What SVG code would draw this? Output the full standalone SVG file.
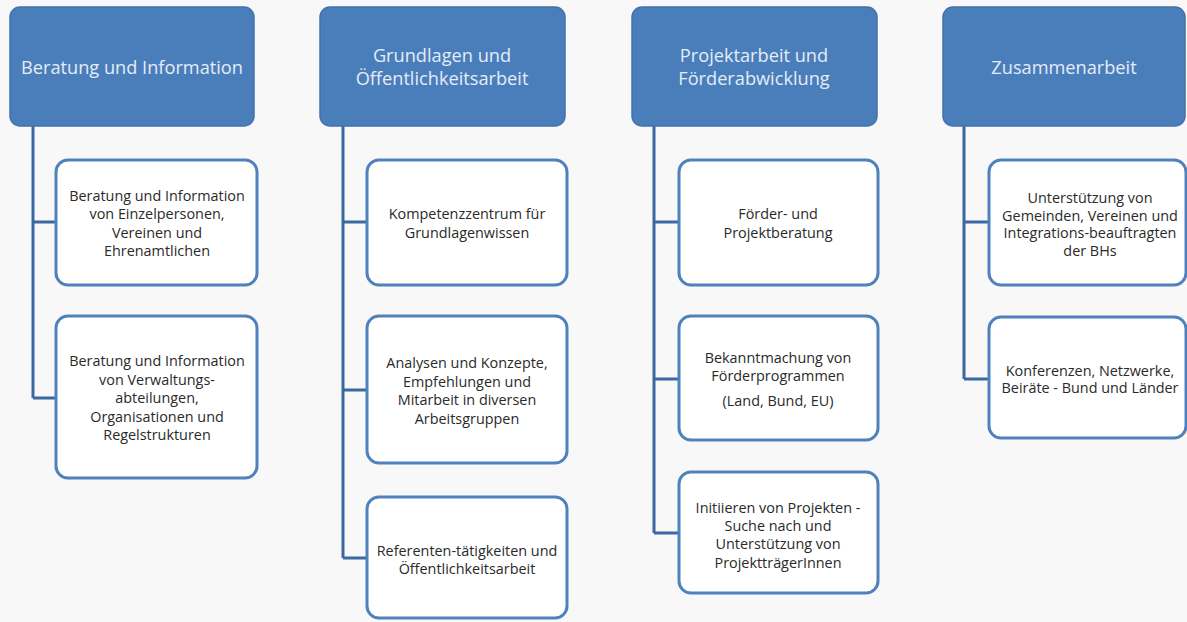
<svg xmlns="http://www.w3.org/2000/svg" width="1187" height="622" viewBox="0 0 1187 622">
<style>
.hdr{fill:#4a7ebb;stroke:#4272ad;stroke-width:1.5}
.hdr-t{font-family:"Open Sans","Liberation Sans",sans-serif;font-size:18.2px;fill:#e4ecf7;text-anchor:middle;dominant-baseline:central}
.box{fill:#ffffff;stroke:#4f81bd;stroke-width:3}
.box-t{font-family:"Open Sans","Liberation Sans",sans-serif;font-size:14.4px;fill:#2a2a2a;text-anchor:middle;dominant-baseline:central}
.con{fill:none;stroke:#3b67a3;stroke-width:3}
</style>
<rect width="1187" height="622" fill="#f8f8f8"/>
<g id="connectors">
<path class="con" d="M33 126 V398 M33 222 H56 M33 398 H56"/>
<path class="con" d="M343 126 V558 M343 222 H367 M343 390 H367 M343 558 H367"/>
<path class="con" d="M654 126 V533 M654 222 H679 M654 379 H679 M654 533 H679"/>
<path class="con" d="M964 126 V379 M964 222 H989 M964 379 H989"/>
</g>
<g id="h1"><rect class="hdr" x="10" y="7" width="244" height="119" rx="10"/><text class="hdr-t" x="132" y="67">Beratung und Information</text></g>
<g id="h2"><rect class="hdr" x="320" y="7" width="245" height="119" rx="10"/><text class="hdr-t" x="442" y="55">Grundlagen und</text><text class="hdr-t" x="442" y="78">Öffentlichkeitsarbeit</text></g>
<g id="h3"><rect class="hdr" x="632" y="7" width="245" height="119" rx="10"/><text class="hdr-t" x="754" y="55">Projektarbeit und</text><text class="hdr-t" x="754" y="78">Förderabwicklung</text></g>
<g id="h4"><rect class="hdr" x="943" y="7" width="242" height="119" rx="10"/><text class="hdr-t" x="1064" y="67">Zusammenarbeit</text></g>

<g id="c1a"><rect class="box" x="56" y="160" width="201" height="125" rx="12"/>
<text class="box-t" x="157" y="195">Beratung und Information</text><text class="box-t" x="157" y="213">von Einzelpersonen,</text><text class="box-t" x="157" y="232">Vereinen und</text><text class="box-t" x="157" y="250">Ehrenamtlichen</text></g>
<g id="c1b"><rect class="box" x="56" y="316" width="201" height="162" rx="12"/>
<text class="box-t" x="157" y="360">Beratung und Information</text><text class="box-t" x="157" y="379">von Verwaltungs-</text><text class="box-t" x="157" y="397">abteilungen,</text><text class="box-t" x="157" y="416">Organisationen und</text><text class="box-t" x="157" y="434">Regelstrukturen</text></g>

<g id="c2a"><rect class="box" x="367" y="160" width="200" height="125" rx="12"/>
<text class="box-t" x="467" y="213">Kompetenzzentrum für</text><text class="box-t" x="467" y="232">Grundlagenwissen</text></g>
<g id="c2b"><rect class="box" x="367" y="316" width="200" height="147" rx="12"/>
<text class="box-t" x="467" y="362">Analysen und Konzepte,</text><text class="box-t" x="467" y="381">Empfehlungen und</text><text class="box-t" x="467" y="399">Mitarbeit in diversen</text><text class="box-t" x="467" y="418">Arbeitsgruppen</text></g>
<g id="c2c"><rect class="box" x="367" y="497" width="200" height="121" rx="12"/>
<text class="box-t" x="467" y="550">Referenten-tätigkeiten und</text><text class="box-t" x="467" y="568">Öffentlichkeitsarbeit</text></g>

<g id="c3a"><rect class="box" x="679" y="160" width="199" height="125" rx="12"/>
<text class="box-t" x="778" y="213">Förder- und</text><text class="box-t" x="778" y="232">Projektberatung</text></g>
<g id="c3b"><rect class="box" x="679" y="316" width="199" height="124" rx="12"/>
<text class="box-t" x="778" y="357">Bekanntmachung von</text><text class="box-t" x="778" y="375">Förderprogrammen</text><text class="box-t" x="778" y="400">(Land, Bund, EU)</text></g>
<g id="c3c"><rect class="box" x="679" y="472" width="199" height="121" rx="12"/>
<text class="box-t" x="778" y="507">Initiieren von Projekten -</text><text class="box-t" x="778" y="525">Suche nach und</text><text class="box-t" x="778" y="543">Unterstützung von</text><text class="box-t" x="778" y="562">ProjektträgerInnen</text></g>

<g id="c4a"><rect class="box" x="989" y="160" width="197" height="125" rx="12"/>
<text class="box-t" x="1090" y="197">Unterstützung von</text><text class="box-t" x="1090" y="215">Gemeinden, Vereinen und</text><text class="box-t" x="1090" y="232">Integrations-beauftragten</text><text class="box-t" x="1090" y="250">der BHs</text></g>
<g id="c4b"><rect class="box" x="989" y="317" width="197" height="121" rx="12"/>
<text class="box-t" x="1090" y="370">Konferenzen, Netzwerke,</text><text class="box-t" x="1090" y="387">Beiräte - Bund und Länder</text></g>
</svg>
